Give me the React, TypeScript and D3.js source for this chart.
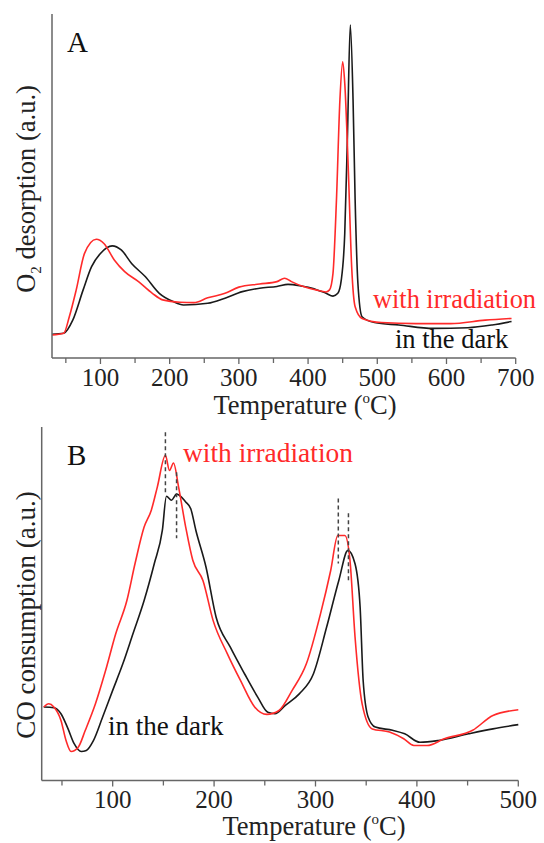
import React from 'react';
import * as d3 from 'd3';

// Panel A: O2 desorption
const aDarkT = [30, 47, 60, 75, 87, 100, 117, 130, 145, 165, 185, 205, 220, 255, 280, 305, 330, 355, 371, 391, 406, 426, 436, 443, 448, 453, 457, 461, 465, 468, 472, 478, 496, 531, 581, 631, 666, 694];
const aDarkV = [6.9, 7.2, 11.0, 19.8, 26.5, 30.4, 32.6, 31.4, 27.5, 23.6, 18.8, 16.4, 15.4, 15.9, 17.4, 19.3, 20.3, 20.8, 21.4, 20.9, 20.3, 18.8, 18.0, 18.8, 22.7, 36.2, 65.3, 96.8, 75.0, 45.9, 21.7, 12.0, 10.3, 9.6, 8.6, 8.8, 9.6, 10.6];
const aIrrT = [30, 47, 55, 65, 77, 94, 105, 120, 135, 155, 175, 190, 215, 235, 255, 280, 300, 330, 355, 366, 376, 391, 411, 426, 431, 436, 441, 446, 450, 453, 458, 463, 468, 478, 506, 556, 606, 656, 694];
const aIrrV = [6.7, 7.2, 12.0, 19.8, 30.4, 34.5, 33.3, 28.5, 25.1, 22.2, 18.8, 16.9, 16.2, 16.1, 17.5, 18.8, 20.6, 21.5, 22.2, 23.2, 22.2, 20.9, 19.8, 19.2, 19.8, 24.6, 45.9, 75.0, 86.1, 79.9, 55.6, 26.5, 14.9, 11.5, 10.3, 10.0, 10.0, 11.0, 11.5];
const aTickLabels = [100, 200, 300, 400, 500, 600, 700];
const aMinorTicks = [50, 150, 250, 350, 450, 550, 650];

// Panel B: CO consumption
const bDarkT = [32, 42, 49, 56, 62, 69, 74, 81, 90, 100, 110, 120, 131, 141, 149, 153, 158, 163, 172, 177, 182, 192, 202, 216, 230, 243, 253, 260, 270, 284, 298, 311, 323, 332, 339, 344, 347, 352, 359, 376, 388, 403, 421, 451, 475, 500];
const bDarkV = [20.8, 20.6, 18.9, 14.6, 10.4, 8.2, 8.5, 11.3, 17.9, 25.5, 33.0, 41.5, 50.9, 61.3, 70.8, 80.4, 79.3, 81.0, 78.8, 76.9, 70.8, 60.4, 46.2, 37.7, 30.2, 23.6, 19.3, 18.9, 21.2, 24.5, 30.2, 43.4, 56.6, 65.1, 61.3, 49.1, 28.3, 17.9, 15.1, 14.2, 13.2, 10.8, 11.3, 13.2, 14.6, 15.8];
const bIrrT = [32, 37, 42, 49, 54, 59, 66, 73, 83, 93, 103, 114, 122, 131, 138, 144, 152, 156, 160, 165, 172, 179, 189, 199, 213, 226, 240, 252, 264, 277, 291, 305, 315, 322, 329, 334, 339, 346, 356, 373, 387, 397, 410, 427, 455, 475, 500];
const bIrrV = [20.8, 21.7, 20.8, 17.0, 11.3, 8.2, 9.4, 14.2, 21.7, 31.1, 41.5, 50.9, 61.3, 71.7, 76.4, 83.0, 92.0, 87.7, 89.8, 83.0, 71.7, 62.3, 56.6, 45.3, 35.9, 28.3, 20.8, 18.7, 19.8, 25.5, 33.0, 47.2, 59.4, 69.3, 69.3, 62.3, 40.6, 21.7, 14.6, 13.7, 11.8, 9.9, 9.9, 11.8, 14.2, 18.4, 20.0];
const bTickLabels = [100, 200, 300, 400, 500];
const bMinorTicks = [50, 150, 250, 350, 450];
const bDashT = [152, 163, 322.5, 332.5];
const bDashTop = [98.5, 87.2, 79.8, 75.6];
const bDashBottom = [81.2, 68.5, 61.4, 55.8];

const FONT = '"Liberation Serif", "Times New Roman", serif';
const RED = '#ff2a2a';
const BLACK = '#1a1a1a';
const AXIS = '#666';

function zip(t: number[], v: number[]) {
  return t.map((d, i) => [d, v[i]] as [number, number]);
}

function Panel(props: {
  x0: number; x1: number; yTop: number; yBot: number;
  xDomain: [number, number];
  ticks: number[]; minor: number[];
  dark: [number, number][]; irr: [number, number][];
  children?: React.ReactNode;
  dashes?: { t: number; a: number; b: number }[];
}) {
  const { x0, x1, yTop, yBot, xDomain, ticks, minor, dark, irr, dashes } = props;
  const x = d3.scaleLinear().domain(xDomain).range([x0, x1]);
  const y = d3.scaleLinear().domain([0, 100]).range([yBot, yTop]);
  const line = d3.line<[number, number]>().x(d => x(d[0])).y(d => y(d[1])).curve(d3.curveMonotoneX);
  return (
    <g>
      <path d={line(dark) || ''} fill="none" stroke={BLACK} strokeWidth={1.6} />
      <path d={line(irr) || ''} fill="none" stroke={RED} strokeWidth={1.6} />
      {dashes && dashes.map((d, i) => (
        <line key={i} x1={x(d.t)} x2={x(d.t)} y1={y(d.a)} y2={y(d.b)} stroke="#444" strokeWidth={1.5} strokeDasharray="4,3" />
      ))}
      <line x1={x0} x2={x0} y1={yTop} y2={yBot} stroke={AXIS} strokeWidth={1.5} />
      <line x1={x0} x2={x1} y1={yBot} y2={yBot} stroke={AXIS} strokeWidth={1.5} />
      {ticks.map(t => (
        <g key={'t' + t}>
          <line x1={x(t)} x2={x(t)} y1={yBot} y2={yBot + 6} stroke={AXIS} strokeWidth={1.3} />
          <text x={x(t)} y={yBot + 27.5} textAnchor="middle" fontFamily={FONT} fontSize={25} fill="#222">{t}</text>
        </g>
      ))}
      {minor.map(t => (
        <line key={'m' + t} x1={x(t)} x2={x(t)} y1={yBot} y2={yBot + 5} stroke={AXIS} strokeWidth={1.3} />
      ))}
      {props.children}
    </g>
  );
}

export default function App() {
  React.useEffect(() => {
    document.body.style.margin = '0';
  }, []);
  const dashes = bDashT.map((t, i) => ({ t, a: bDashTop[i], b: bDashBottom[i] }));
  return (
    <svg width={544} height={843} style={{ position: 'absolute', left: 0, top: 0, background: '#fff' }}>
      <Panel x0={52} x1={515.7} yTop={14} yBot={358} xDomain={[30, 700]} ticks={aTickLabels} minor={aMinorTicks}
        dark={zip(aDarkT, aDarkV)} irr={zip(aIrrT, aIrrV)}>
        <text x={67} y={52} fontFamily={FONT} fontSize={29} fill="#111">A</text>
        <text x={373} y={308} fontFamily={FONT} fontSize={27} fill={RED} textLength={163} lengthAdjust="spacingAndGlyphs">with irradiation</text>
        <text x={395} y={348} fontFamily={FONT} fontSize={26.5} fill="#111">in the dark</text>
        <text x={305} y={414} textAnchor="middle" fontFamily={FONT} fontSize={26.5} fill="#222">
          Temperature (<tspan fontSize={15} dy={-11}>o</tspan><tspan dy={11}>C)</tspan>
        </text>
        <text transform="translate(35,189) rotate(-90)" textAnchor="middle" fontFamily={FONT} fontSize={26.5} fill="#222">
          O<tspan fontSize={15} dy={6}>2</tspan><tspan dy={-6}> desorption (a.u.)</tspan>
        </text>
      </Panel>
      <Panel x0={41.7} x1={518.3} yTop={427} yBot={780.5} xDomain={[30, 500]} ticks={bTickLabels} minor={bMinorTicks}
        dark={zip(bDarkT, bDarkV)} irr={zip(bIrrT, bIrrV)} dashes={dashes}>
        <text x={67} y={465} fontFamily={FONT} fontSize={29} fill="#111">B</text>
        <text x={183} y={462} fontFamily={FONT} fontSize={27} fill={RED} textLength={170} lengthAdjust="spacingAndGlyphs">with irradiation</text>
        <text x={108} y={735} fontFamily={FONT} fontSize={27} fill="#111">in the dark</text>
        <text x={314} y={835} textAnchor="middle" fontFamily={FONT} fontSize={26.5} fill="#222">
          Temperature (<tspan fontSize={15} dy={-11}>o</tspan><tspan dy={11}>C)</tspan>
        </text>
        <text transform="translate(35,615) rotate(-90)" textAnchor="middle" fontFamily={FONT} fontSize={27} fill="#222">
          CO consumption (a.u.)
        </text>
      </Panel>
    </svg>
  );
}
